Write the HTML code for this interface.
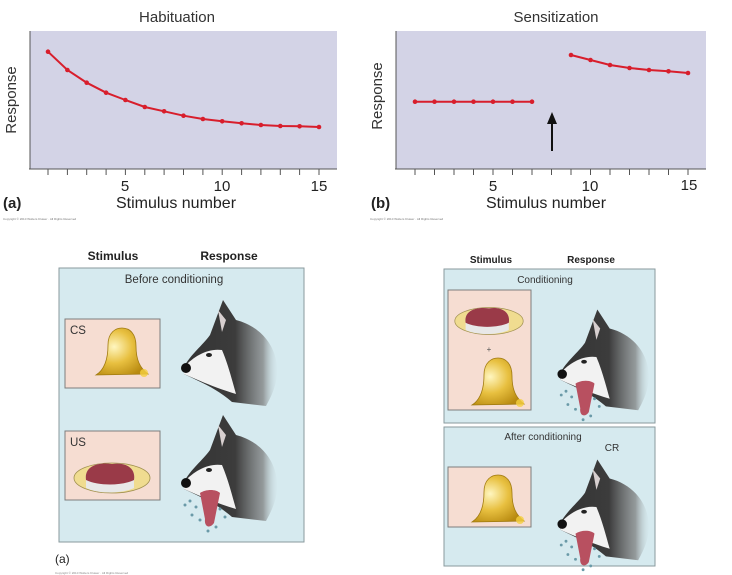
<!DOCTYPE html>
<html><head><meta charset="utf-8"><style>
html,body{margin:0;padding:0;background:#fff;}
svg{display:block;font-family:"Liberation Sans",Arial,sans-serif;}
</style></head><body>
<svg width="732" height="575" viewBox="0 0 732 575" xmlns="http://www.w3.org/2000/svg">
<defs>
<linearGradient id="fur" x1="0" x2="1" y1="0" y2="0">
<stop offset="0" stop-color="#333"/><stop offset="0.55" stop-color="#3c3c3c"/><stop offset="0.85" stop-color="#777" stop-opacity="0.7"/><stop offset="1" stop-color="#c8d8dc" stop-opacity="0.1"/>
</linearGradient>
<radialGradient id="bellg" cx="0.35" cy="0.4" r="0.7">
<stop offset="0" stop-color="#fff6c0"/><stop offset="0.5" stop-color="#e8c040"/><stop offset="1" stop-color="#b88a10"/>
</radialGradient>
<g id="dog">
<path d="M14,77 C20,65 33,55 40,45 L53,10 L66,30 C86,35 102,50 106,70 C110,90 102,105 96,116 L62,112 C46,98 30,92 14,84 Z" fill="url(#fur)"/>
<path d="M14,77 C24,66 38,58 52,60 C58,74 62,90 66,104 C46,98 30,91 14,84 Z" fill="#f2f2f2"/>
<path d="M48,20 L56,30 L52,42 Z" fill="#d8d0d0"/>
<circle cx="16" cy="78" r="5" fill="#111"/>
<ellipse cx="39" cy="65" rx="3" ry="2" fill="#222"/>
</g>
<g id="drool">
<path d="M30,88 C36,84 46,84 50,88 L44,118 C40,124 34,122 35,114 Z" fill="#b85060"/>
<g fill="#6a9aa8"><circle cx="20" cy="96" r="1.5"/><circle cx="26" cy="102" r="1.5"/><circle cx="22" cy="110" r="1.5"/><circle cx="30" cy="115" r="1.5"/><circle cx="50" cy="104" r="1.5"/><circle cx="55" cy="112" r="1.5"/><circle cx="38" cy="126" r="1.5"/><circle cx="46" cy="122" r="1.5"/><circle cx="15" cy="100" r="1.5"/></g>
</g>
<g id="bell">
<path d="M0,45 C8,40 12,30 12,15 C12,2 20,-2 26,-2 C34,-2 40,4 40,16 C40,30 44,38 52,44 Z" fill="url(#bellg)" stroke="#a07a10" stroke-width="0.8"/>
<circle cx="48" cy="43" r="4" fill="#f5d040" opacity="0.8"/>
</g>
<g id="meat">
<ellipse cx="0" cy="0" rx="38" ry="15" fill="#f0dc90" stroke="#a09050" stroke-width="0.8"/>
<path d="M-26,2 C-28,-12 -14,-16 0,-14 C14,-16 24,-10 22,2 L22,10 C10,16 -14,16 -26,10 Z" fill="#e8e8e8"/>
<path d="M-26,2 C-28,-12 -14,-16 0,-14 C14,-16 24,-10 22,2 C10,8 -14,8 -26,2 Z" fill="#9a3a48"/>
</g>
</defs>

<!-- Chart a -->
<text x="177" y="22" font-size="15" text-anchor="middle" fill="#333">Habituation</text>
<rect x="30" y="31" width="307" height="138" fill="#d3d3e6"/>
<line x1="29" y1="169" x2="337" y2="169" stroke="#555"/>
<line x1="30" y1="31" x2="30" y2="169" stroke="#555"/>
<g stroke="#555">
<line x1="48" y1="169" x2="48" y2="175"/><line x1="67.4" y1="169" x2="67.4" y2="175"/><line x1="86.7" y1="169" x2="86.7" y2="175"/><line x1="106.1" y1="169" x2="106.1" y2="175"/><line x1="125.4" y1="169" x2="125.4" y2="175"/><line x1="144.8" y1="169" x2="144.8" y2="175"/><line x1="164.1" y1="169" x2="164.1" y2="175"/><line x1="183.5" y1="169" x2="183.5" y2="175"/><line x1="202.9" y1="169" x2="202.9" y2="175"/><line x1="222.2" y1="169" x2="222.2" y2="175"/><line x1="241.6" y1="169" x2="241.6" y2="175"/><line x1="260.9" y1="169" x2="260.9" y2="175"/><line x1="280.3" y1="169" x2="280.3" y2="175"/><line x1="299.6" y1="169" x2="299.6" y2="175"/><line x1="319" y1="169" x2="319" y2="175"/>
</g>
<g font-size="15" fill="#222" text-anchor="middle"><text x="125" y="191">5</text><text x="222" y="191">10</text><text x="319" y="191">15</text></g>
<text x="176" y="208" font-size="16" text-anchor="middle" fill="#222">Stimulus number</text>
<text x="3" y="208" font-size="15" font-weight="bold" fill="#222">(a)</text>
<text x="16" y="100" font-size="15" fill="#333" text-anchor="middle" transform="rotate(-90 16 100)">Response</text>
<text x="3" y="220" font-size="3" fill="#777">Copyright © 2010 Wolters Kluwer · All Rights Reserved</text>
<polyline fill="none" stroke="#d81e2c" stroke-width="2" points="48,51.7 67.4,70 86.7,82.7 106.1,92.7 125.4,100 144.8,107 164.1,111.3 183.5,115.7 202.9,119 222.2,121.3 241.6,123.3 260.9,125 280.3,126 299.6,126.3 319,127"/>
<g fill="#d81e2c"><circle cx="48" cy="51.7" r="2.3"/><circle cx="67.4" cy="70" r="2.3"/><circle cx="86.7" cy="82.7" r="2.3"/><circle cx="106.1" cy="92.7" r="2.3"/><circle cx="125.4" cy="100" r="2.3"/><circle cx="144.8" cy="107" r="2.3"/><circle cx="164.1" cy="111.3" r="2.3"/><circle cx="183.5" cy="115.7" r="2.3"/><circle cx="202.9" cy="119" r="2.3"/><circle cx="222.2" cy="121.3" r="2.3"/><circle cx="241.6" cy="123.3" r="2.3"/><circle cx="260.9" cy="125" r="2.3"/><circle cx="280.3" cy="126" r="2.3"/><circle cx="299.6" cy="126.3" r="2.3"/><circle cx="319" cy="127" r="2.3"/></g>

<!-- Chart b -->
<text x="556" y="22" font-size="15" text-anchor="middle" fill="#333">Sensitization</text>
<rect x="396" y="31" width="310" height="138" fill="#d3d3e6"/>
<line x1="395" y1="169" x2="706" y2="169" stroke="#555"/>
<line x1="396" y1="31" x2="396" y2="169" stroke="#555"/>
<g stroke="#555">
<line x1="415" y1="169" x2="415" y2="175"/><line x1="434.5" y1="169" x2="434.5" y2="175"/><line x1="454" y1="169" x2="454" y2="175"/><line x1="473.5" y1="169" x2="473.5" y2="175"/><line x1="493" y1="169" x2="493" y2="175"/><line x1="512.5" y1="169" x2="512.5" y2="175"/><line x1="532" y1="169" x2="532" y2="175"/><line x1="551.5" y1="169" x2="551.5" y2="175"/><line x1="571" y1="169" x2="571" y2="175"/><line x1="590.5" y1="169" x2="590.5" y2="175"/><line x1="610" y1="169" x2="610" y2="175"/><line x1="629.5" y1="169" x2="629.5" y2="175"/><line x1="649" y1="169" x2="649" y2="175"/><line x1="668.5" y1="169" x2="668.5" y2="175"/><line x1="688" y1="169" x2="688" y2="175"/>
</g>
<g font-size="15" fill="#222" text-anchor="middle"><text x="493" y="191">5</text><text x="590" y="191">10</text><text x="689" y="190">15</text></g>
<text x="546" y="208" font-size="16" text-anchor="middle" fill="#222">Stimulus number</text>
<text x="371" y="208" font-size="15" font-weight="bold" fill="#222">(b)</text>
<text x="382" y="96" font-size="15" fill="#333" text-anchor="middle" transform="rotate(-90 382 96)">Response</text>
<text x="370" y="220" font-size="3" fill="#777">Copyright © 2010 Wolters Kluwer · All Rights Reserved</text>
<polyline fill="none" stroke="#d81e2c" stroke-width="2" points="415,101.7 434.5,101.7 454,101.7 473.5,101.7 493,101.7 512.5,101.7 532,101.7"/>
<polyline fill="none" stroke="#d81e2c" stroke-width="2" points="571,55 590.5,60 610,65 629.5,68 649,70 668.5,71.3 688,73"/>
<g fill="#d81e2c"><circle cx="415" cy="101.7" r="2.3"/><circle cx="434.5" cy="101.7" r="2.3"/><circle cx="454" cy="101.7" r="2.3"/><circle cx="473.5" cy="101.7" r="2.3"/><circle cx="493" cy="101.7" r="2.3"/><circle cx="512.5" cy="101.7" r="2.3"/><circle cx="532" cy="101.7" r="2.3"/><circle cx="571" cy="55" r="2.3"/><circle cx="590.5" cy="60" r="2.3"/><circle cx="610" cy="65" r="2.3"/><circle cx="629.5" cy="68" r="2.3"/><circle cx="649" cy="70" r="2.3"/><circle cx="668.5" cy="71.3" r="2.3"/><circle cx="688" cy="73" r="2.3"/></g>
<line x1="552" y1="151" x2="552" y2="122" stroke="#111" stroke-width="2"/>
<path d="M547,124 L552,112 L557,124 Z" fill="#111"/>

<!-- Bottom left -->
<text x="113" y="260" font-size="12" font-weight="bold" text-anchor="middle" fill="#222">Stimulus</text>
<text x="229" y="260" font-size="12" font-weight="bold" text-anchor="middle" fill="#222">Response</text>
<rect x="59" y="268" width="245" height="274" fill="#d6eaef" stroke="#8a9a9e" stroke-width="1"/>
<text x="174" y="283" font-size="11.5" text-anchor="middle" fill="#333">Before conditioning</text>
<rect x="65" y="319" width="95" height="69" fill="#f6ddd2" stroke="#7d7d7d"/>
<text x="70" y="334" font-size="11.5" fill="#333">CS</text>
<use href="#bell" x="96" y="330"/>
<rect x="65" y="431" width="95" height="69" fill="#f6ddd2" stroke="#7d7d7d"/>
<text x="70" y="446" font-size="11.5" fill="#333">US</text>
<use href="#meat" x="112" y="478"/>
<use href="#dog" x="170" y="290"/>
<use href="#dog" x="170" y="405"/>
<use href="#drool" x="170" y="405"/>
<text x="55" y="563" font-size="12" fill="#222">(a)</text>
<text x="55" y="574" font-size="3" fill="#888">Copyright © 2010 Wolters Kluwer · All Rights Reserved</text>

<!-- Bottom right -->
<text x="491" y="263" font-size="10" font-weight="bold" text-anchor="middle" fill="#222">Stimulus</text>
<text x="591" y="263" font-size="10" font-weight="bold" text-anchor="middle" fill="#222">Response</text>
<rect x="444" y="269" width="211" height="154" fill="#d6eaef" stroke="#8a9a9e"/>
<text x="545" y="283" font-size="10" text-anchor="middle" fill="#333">Conditioning</text>
<rect x="448" y="290" width="83" height="120" fill="#f6ddd2" stroke="#7d7d7d"/>
<use href="#meat" x="489" y="321" transform="translate(489 321) scale(0.9) translate(-489 -321)"/>
<text x="489" y="352" font-size="8" text-anchor="middle" fill="#555">+</text>
<use href="#bell" x="472" y="360"/>
<use href="#dog" x="547" y="300" transform="translate(547 300) scale(0.95) translate(-547 -300)"/>
<use href="#drool" x="547" y="300" transform="translate(547 300) scale(0.95) translate(-547 -300)"/>
<rect x="444" y="427" width="211" height="139" fill="#d6eaef" stroke="#8a9a9e"/>
<text x="543" y="440" font-size="10" text-anchor="middle" fill="#333">After conditioning</text>
<text x="612" y="451" font-size="10" text-anchor="middle" fill="#333">CR</text>
<rect x="448" y="467" width="83" height="60" fill="#f6ddd2" stroke="#7d7d7d"/>
<use href="#bell" x="472" y="477"/>
<use href="#dog" x="547" y="450" transform="translate(547 450) scale(0.95) translate(-547 -450)"/>
<use href="#drool" x="547" y="450" transform="translate(547 450) scale(0.95) translate(-547 -450)"/>
</svg>
</body></html>
